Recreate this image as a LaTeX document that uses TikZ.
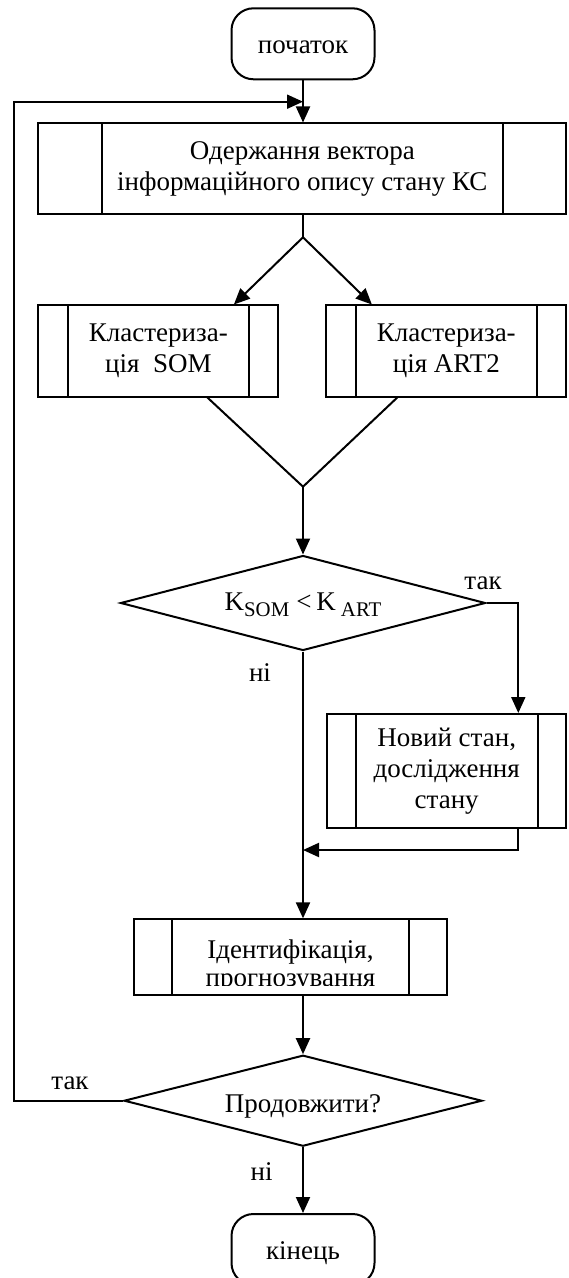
\documentclass[tikz,border=0pt]{standalone}
\usepackage{fontspec}
\setmainfont{Liberation Serif}
\usepackage{tikz}
\usetikzlibrary{shapes.geometric, arrows.meta}

\newcommand{\lowidx}[1]{\raisebox{-3pt}{\fontsize{10.4}{10}\selectfont #1}}

\tikzset{
  strip/.store in=\stripw, strip=15pt,
  term/.style={draw, rounded corners=11pt, minimum width=71.5pt, minimum height=35.5pt,
    inner sep=0pt, text height=10.5pt, text depth=1pt},
  proc/.style={draw, rectangle, inner sep=0pt, align=center,
    path picture={
      \draw ([xshift=\stripw]path picture bounding box.north west) -- ([xshift=\stripw]path picture bounding box.south west)
            ([xshift=-\stripw]path picture bounding box.north east) -- ([xshift=-\stripw]path picture bounding box.south east);}},
  decide/.style={draw, diamond, shape aspect=3.8, inner sep=0pt},
  arr/.style={-{Triangle[length=8pt, width=7pt]}},
}

\begin{document}
\begin{tikzpicture}[x=0.5pt, y=-0.5pt, line width=1pt, font=\fontsize{13.5}{15.5}\selectfont]
  \useasboundingbox (0,0) rectangle (568,1278);

  % Start
  \node[term] (start) at (303,43.8) {початок};
  \coordinate (back) at (303,101.7);
  \coordinate (edge) at (14,101.7);

  % Vector
  \node[proc, strip=31.7pt, minimum width=264pt, minimum height=45.5pt] (vec) at (302.3,169)
    {Одержання вектора\\інформаційного опису стану КС};
  \draw[arr] (start.south) -- (start.south |- vec.north);

  % Clustering
  \coordinate (fork) at (303,237.3);
  \node[proc, strip=14.7pt, minimum width=120pt, minimum height=45.5pt] (som) at (158.4,351)
    {Кластериза-\\ція\ \ SOM};
  \node[proc, strip=14.7pt, minimum width=120pt, minimum height=45.5pt] (art) at (446.3,351)
    {Кластериза-\\ція ART2};
  \draw (fork |- vec.south) -- (fork);
  \draw[arr] (fork) -- ([xshift=-22.75pt]som.north east);
  \draw[arr] (fork) -- ([xshift=23.3pt]art.north west);

  % Compare
  \coordinate (merge) at (303,486.7);
  \draw ([xshift=-36pt]som.south east) -- (merge) -- ([xshift=36pt]art.south west);
  \node[decide, minimum width=182.5pt, minimum height=47.5pt, text height=9pt, text depth=1.3pt] (dec1) at (303,603)
    {K\lowidx{SOM}\hspace{3.5pt}<\hspace{2.5pt}K\hspace{2.5pt}\lowidx{ART}};
  \draw[arr] (merge) -- (dec1.north);

  % New state
  \node[proc, strip=14.3pt, minimum width=119.4pt, minimum height=57pt] (new) at (446.7,771)
    {Новий стан,\\дослідження\\стану};
  \draw[arr] (dec1.east) -| ([xshift=35.8pt]new.north);
  \node (yes1) at (483,583) {так};
  \coordinate (join) at (303,850);
  \draw[arr] ([xshift=35.8pt]new.south) |- (join);

  % Identification
  \node[proc, strip=19pt, minimum width=156.2pt, minimum height=37.85pt] (ident) at (290.5,957.2) {};
  \begin{scope}
    \clip (ident.north west) rectangle ([yshift=5.5pt]ident.south east);
    \node[align=center, font=\fontsize{13.5}{14}\selectfont] (identtxt) at (290.5,966)
      {Ідентифікація,\\прогнозування};
  \end{scope}
  \draw[arr] (dec1.south) -- (dec1.south |- ident.north);
  \node (no1) at (260,673) {ні};

  % Continue
  \node[decide, minimum width=179pt, minimum height=45.5pt, text height=12pt, text depth=0pt] (dec2) at (303,1100.7)
    {Продовжити?};
  \draw[arr] (ident.south -| dec2.north) -- (dec2.north);
  \draw[arr] (dec2.west) -| (edge) -- (back);
  \node (yes2) at (70,1083.3) {так};

  % End
  \node[term] (end) at (303,1249.5) {кінець};
  \draw[arr] (dec2.south) -- (end.north);
  \node (no2) at (261.7,1172) {ні};

\end{tikzpicture}
\end{document}
